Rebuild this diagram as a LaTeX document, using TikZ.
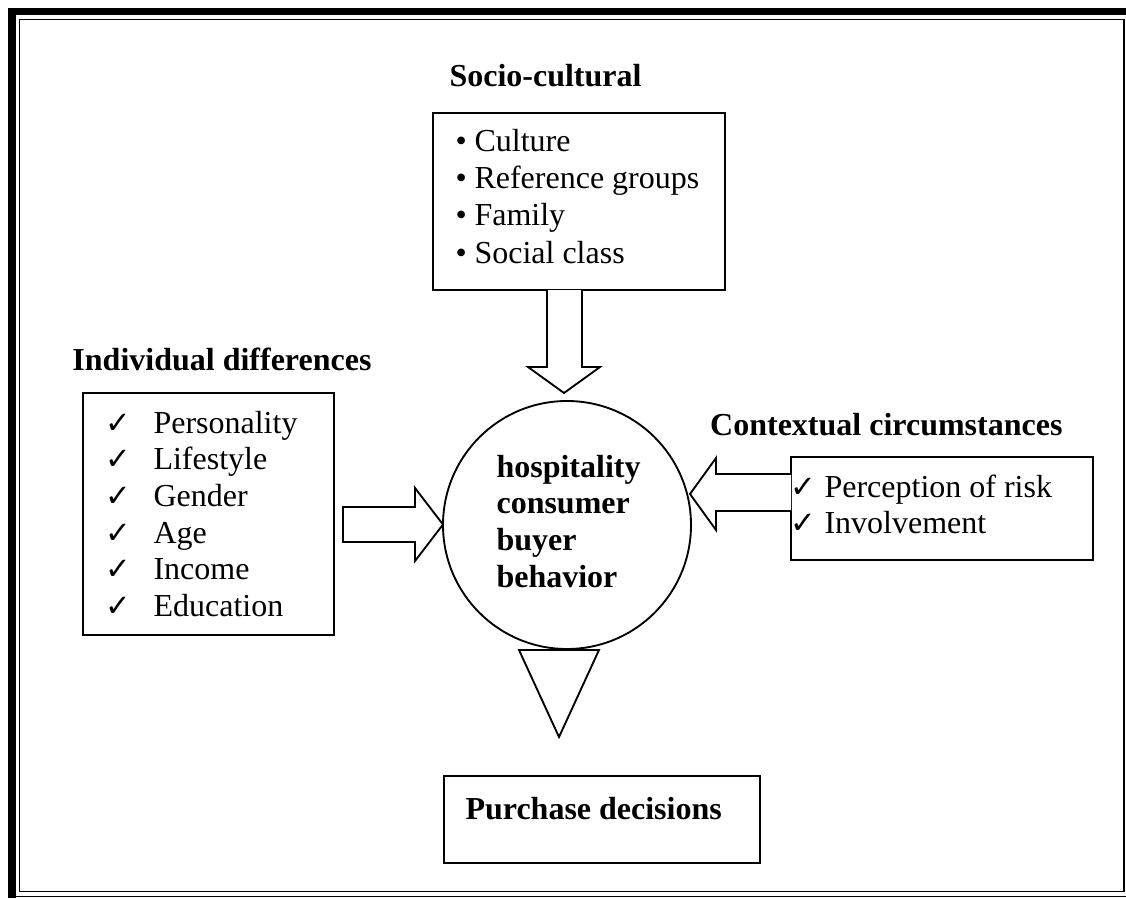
\documentclass[tikz,border=0pt]{standalone}
\usepackage{fontspec}
\setmainfont{Liberation Serif}
\newfontfamily\symfont{DejaVu Sans}
\usetikzlibrary{fit}
\begin{document}
\begin{tikzpicture}[x=0.375pt,y=-0.375pt,line join=miter]
\tikzset{
  box/.style={draw,line width=0.7pt,inner sep=0pt},
  blk/.style={draw,line width=0.7pt,fill=white},
  txt/.style={anchor=base west,inner sep=0pt,font=\fontsize{12}{13.8}\selectfont},
  hdr/.style={txt,font=\fontsize{12}{13.8}\selectfont\bfseries},
  tick/.style={anchor=base west,inner sep=0pt,font=\fontsize{11.5}{12}\symfont},
}
\useasboundingbox (0,0) rectangle (1126,898);
% page border: thick-thin frame
\fill (8,8) rectangle (1126,15.5);
\fill (8,8) rectangle (15.5,898);
\draw[line width=0.6pt] (8,896.5) -- (1126,896.5);
\draw[line width=0.6pt] (19.5,19.5) rectangle (1124,891.5);

% boxes and the central circle
\node[box,fit={(433,113) (725,290)}] (socio) {};
\node[box,fit={(83,393) (334,635)}] (indiv) {};
\node[box,fit={(791,457) (1093,560)}] (context) {};
\node[box,fit={(444,776) (760,863)}] (purchase) {};
\node[draw,circle,line width=0.7pt,minimum size=93pt,inner sep=0pt] (hub) at (567,525) {};

% headings
\node[hdr] (hsocio) at (449,87) {Socio-cultural};
\node[hdr,anchor=base east] (hindiv) at (372,370) {Individual differences};
\node[hdr,anchor=base east] (hcontext) at (1063,435) {Contextual circumstances};

% socio-cultural items
\foreach \t [count=\i from 0] in {Culture,Reference groups,Family,Social class}{
  \node[txt] (sb\i) at (455,152+37*\i) {•};
  \node[txt] (st\i) at (474,152+37*\i) {\t};
}
% individual differences items
\foreach \t [count=\i from 0] in {Personality,Lifestyle,Gender,Age,Income,Education}{
  \node[tick] (ic\i) at (105,433+36.7*\i) {✓};
  \node[txt] (it\i) at (153,433+36.7*\i) {\t};
}
% contextual items
\foreach \t [count=\i from 0] in {Perception of risk,Involvement}{
  \node[tick] (cc\i) at (790,497+36.5*\i) {✓};
  \node[txt] (ct\i) at (824,497+36.5*\i) {\t};
}
% central label
\foreach \t [count=\i from 0] in {hospitality,consumer,buyer,behavior}{
  \node[hdr] (hl\i) at (496,477+36.7*\i) {\t};
}
\node[hdr] (plabel) at (465,819) {Purchase decisions};

% block arrows
\draw[blk] (547,290) -- (547,367) -- (528,367) -- (564,393) -- (600,367) -- (582,367) -- (582,290);
\draw[blk] (343,507) -- (415,507) -- (415,488) -- (443,524.5) -- (415,561) -- (415,542) -- (343,542) -- cycle;
\draw[blk] (791,474) -- (716,474) -- (716,458) -- (690,494) -- (716,530) -- (716,511) -- (791,511);
\draw[blk] (519,650) -- (599,650) -- (559,737) -- cycle;
\end{tikzpicture}
\end{document}
